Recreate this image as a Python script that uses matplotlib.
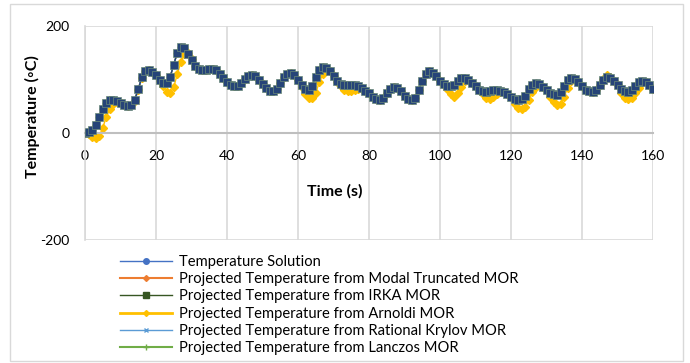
import numpy as np
import matplotlib
matplotlib.use('Agg')
import matplotlib.pyplot as plt
from matplotlib.patches import Rectangle

plt.rcParams['font.family'] = ['Lato', 'DejaVu Sans']
plt.rcParams['axes.unicode_minus'] = False

# time axis (s), one sample per second
time_s = list(range(0, 161))

# full-order temperature solution (deg C)
solution = [
    0, 2, 5, 15, 30, 45, 56, 61, 62, 60,
    56, 52, 50, 52, 62, 82, 104, 116, 118, 114,
    108, 100, 94, 93, 105, 128, 150, 160, 158, 148,
    136, 126, 120, 118, 118, 120, 120, 117, 110, 102,
    96, 90, 87, 88, 94, 101, 106, 108, 106, 100,
    92, 85, 79, 78, 83, 94, 104, 111, 112, 108,
    100, 90, 82, 80, 88, 105, 118, 124, 122, 116,
    106, 98, 92, 90, 90, 90, 90, 88, 84, 79,
    74, 68, 63, 62, 66, 74, 82, 86, 84, 78,
    70, 64, 62, 66, 80, 98, 111, 115, 112, 106,
    98, 92, 88, 87, 90, 97, 102, 103, 100, 94,
    87, 81, 78, 77, 78, 80, 80, 79, 76, 72,
    67, 63, 62, 63, 70, 82, 90, 93, 91, 86,
    80, 75, 72, 71, 76, 88, 99, 103, 101, 95,
    88, 81, 78, 77, 80, 90, 100, 105, 103, 97,
    90, 83, 79, 77, 80, 88, 95, 98, 96, 90,
    83,
]

# Arnoldi MOR projection (lags and dips below the solution after each peak)
arnoldi = [
    0, -2, -8, -10, -6, 10, 30, 45, 55, 58,
    56, 52, 50, 52, 60, 80, 102, 116, 118, 114,
    108, 98, 88, 76, 75, 86, 110, 132, 148, 149,
    138, 126, 120, 118, 118, 120, 120, 117, 110, 102,
    96, 90, 87, 88, 94, 101, 106, 108, 106, 100,
    92, 85, 79, 78, 83, 94, 104, 111, 112, 108,
    100, 86, 72, 66, 66, 75, 95, 110, 118, 116,
    106, 96, 88, 80, 78, 78, 80, 82, 82, 79,
    74, 68, 63, 62, 66, 74, 82, 86, 84, 78,
    70, 64, 62, 66, 80, 98, 111, 115, 112, 106,
    98, 90, 82, 72, 68, 74, 86, 97, 100, 94,
    87, 80, 72, 66, 64, 67, 72, 76, 76, 72,
    67, 55, 47, 44, 48, 62, 76, 86, 90, 86,
    80, 68, 58, 52, 54, 68, 85, 98, 101, 95,
    88, 81, 78, 77, 80, 90, 101, 108, 104, 97,
    90, 75, 66, 63, 65, 74, 85, 93, 95, 90,
    83,
]

# the other reduced models sit on top of the full solution
modal = solution
irka = solution
krylov = solution
lanczos = solution

labels = [
    'Temperature Solution',
    'Projected Temperature from Modal Truncated MOR',
    'Projected Temperature from IRKA MOR',
    'Projected Temperature from Arnoldi MOR',
    'Projected Temperature from Rational Krylov MOR',
    'Projected Temperature from Lanczos MOR',
]

fig = plt.figure(figsize=(6.9, 3.63), dpi=100)
ax = fig.add_axes([85/690, 1-240/363, 568/690, 214/363])

grid_c = '#d9d9d9'
for xv in range(0, 161, 20):
    ax.axvline(xv, color=grid_c, lw=1.2, zorder=0)
ax.axhline(200, color=grid_c, lw=1.2, zorder=0)
ax.axhline(-200, color=grid_c, lw=1.2, zorder=0)

ax.plot(time_s, arnoldi, '-D', color='#FFC000', ms=4.2, lw=1.0, zorder=2)
ax.plot(time_s, solution, '-o', color='#4472C4', ms=4.5, lw=1.0, zorder=3)
ax.plot(time_s, modal, '-D', color='#ED7D31', ms=3.5, lw=1.0, zorder=3)
ax.plot(time_s, lanczos, '-+', color='#70AD47', ms=4.5, lw=0.8, zorder=3)
ax.plot(time_s, krylov, '-x', color='#5B9BD5', ms=3.5, lw=0.8, zorder=3)
ax.plot(time_s, irka, '-s', color='#264478', mec='#6A8A78', mew=0.5, ms=5.2, lw=1.0, zorder=4)

ax.set_xlim(0, 160)
ax.set_ylim(-200, 200)
ax.set_xticks(range(0, 161, 20))
ax.set_yticks([-200, 0, 200])
ax.tick_params(length=0, labelsize=10, colors='#000000')
ax.tick_params(axis='x', pad=12)
ax.tick_params(axis='y', pad=11)

for s in ['top', 'right']:
    ax.spines[s].set_visible(False)
ax.spines['bottom'].set_position(('data', 0))
ax.spines['bottom'].set_color('#bfbfbf')
ax.spines['bottom'].set_linewidth(1.5)
ax.spines['left'].set_color(grid_c)
ax.spines['left'].set_linewidth(1.2)

ax.set_xlabel('Time (s)', fontsize=11.5, fontweight='bold')
ax.xaxis.set_label_coords(0.44, 0.26)
ax.set_ylabel('Temperature (◦C)', fontsize=11.5, fontweight='bold')
ax.yaxis.set_label_coords(-0.08, 0.575)

# legend handles drawn in their own colours
leg_handles = [
    plt.Line2D([], [], color='#4472C4', marker='o', ms=4, lw=1.0),
    plt.Line2D([], [], color='#ED7D31', marker='D', ms=3, lw=1.5),
    plt.Line2D([], [], color='#375623', marker='s', ms=4.5, lw=1.0),
    plt.Line2D([], [], color='#FFC000', marker='D', ms=3, lw=2.0),
    plt.Line2D([], [], color='#5B9BD5', marker='x', ms=3, lw=1.0),
    plt.Line2D([], [], color='#70AD47', marker='+', ms=4, lw=1.5),
]
fig.legend(leg_handles, labels, loc='upper left', bbox_to_anchor=(120/690, 1-255/363),
           frameon=False, fontsize=10.6, labelspacing=0.22, handlelength=3.5,
           handletextpad=0.5, borderaxespad=0, borderpad=0)

fig.patches.append(Rectangle((10/690, 2/363), 673/690, 357/363, transform=fig.transFigure,
                             fill=False, edgecolor='#d9d9d9', lw=1.0))

fig.savefig('out.png', dpi=100)
